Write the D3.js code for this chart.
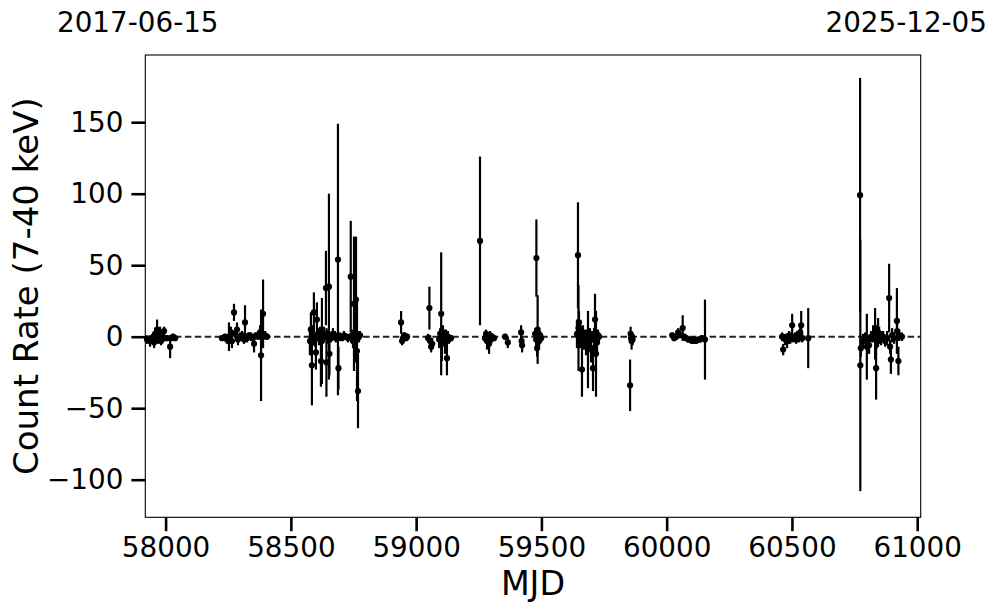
<!DOCTYPE html>
<html><head><meta charset="utf-8">
<script src="https://cdn.jsdelivr.net/npm/d3@7"></script>
<style>body{margin:0;background:#fff}svg{display:block}text{font-family:"DejaVu Sans",sans-serif;fill:#000}</style>
</head><body><svg id="c" width="997" height="613"></svg>
<script>
const mjd = [
57926,57938,57946,57954,57958,57966,57970,57978,57982,57986,57994,57998,58006,58018,58022,58030,58038,
58225,58237,58245,58253,58261,58265,58273,58277,58285,58289,58297,58305,58313,58317,58325,58333,58341,58349,58353,58361,58369,58377,58381,58389,58397,58405,
58576,58580,58584,58588,58592,58596,58600,58604,58608,58612,58616,58620,58624,58628,58632,58640,58642,58644,58652,58654,58660,58668,58676,58680,58688,58690,58696,58704,58712,58720,58728,58739,58744,58748,58752,58756,58760,58764,58768,58772,58776,
58940,58944,58948,58952,58956,58960,58964,
59048,59053,59056,59060,59064,
59092,59096,59100,59103,59107,59111,59115,59119,59123,59127,59131,59139,
59255,59275,59279,59283,59287,59291,59295,59299,59303,59311,59355,59366,59419,59421,59423,
59475,59479,59480,59483,59485,59487,59491,59495,59499,
59642,59646,59648,59650,59654,59658,59662,59666,59670,59674,59678,59682,59686,59690,59694,59698,59702,59706,59710,59714,59718,59722,59726,59730,
59854,59856,59858,59860,59862,59864,
60022,60030,60038,60046,60054,60064,60070,60078,60086,60094,60102,60110,60117,60125,60133,60141,60153,
60461,60465,60473,60481,60489,60493,60501,60505,60513,60517,60521,60529,60533,60537,60541,60565,
60772,60773,60775,60784,60792,60799,60808,60816,60824,60832,60836,60840,60844,60848,60856,60864,60872,60880,60888,60892,60895,60900,60908,60919,60920,60925,60928,60939
];
const rate = [
-2,-3,-1,-4,2,5,-2,3,-3,1,4,-1,-1,-7,-1,0,-1,
-1,0,-2,0,3,-3,17,2,5,-2,0,1,-2,10,-1,1,0,-1,-5,1,0,3,-13,16,1,0,
-3,5,-20,0,17,-2,-11,12,2,-1,1,-17,-3,0,2,34,-18,0,35,-12,-1,2,1,-1,54,-22,0,-1,1,0,-1,42,1,-3,23,3,26,-10,-38,0,1,
10,-3,-1,1,0,-1,0,
-1,20,-3,-7,-5,
-2,2,16,-5,3,-1,-4,1,-15,0,-2,-1,
67,-1,2,-3,0,-5,1,-2,0,-1,0,-4,3,-3,-6,
2,-2,55,-8,5,0,-3,1,-1,
2,57,6,10,-2,3,-23,0,-3,1,-5,0,-9,-3,1,-8,0,-22,-2,12,-12,-4,1,0,
-34,2,-1,-3,0,-2,
1,-1,0,3,1,6,0,-1,-2,-2,-3,-2,-3,-2,-2,-1,-2,
0,-9,-2,-3,1,-2,8,-1,0,-2,1,0,3,8,-1,-1,
99,-20,-8,-3,-1,-7,-6,0,2,2,-22,0,3,1,-1,0,-3,-1,27,-7,-16,1,-1,11,4,-17,1,0
];
const rateErr = [
3,4,3,4,4,7,3,4,3,3,3,2,2,8,2,2,2,
2,2,3,10,4,5,6,3,5,4,3,3,3,12,3,2,3,3,6,2,2,5,32,24,3,2,
10,12,28,6,14,5,12,12,4,5,6,18,30,4,5,26,24,5,65,15,3,4,3,3,95,15,3,2,3,2,3,39,4,5,47,6,44,35,26,4,3,
8,3,2,2,2,2,2,
3,15,4,4,4,
6,4,43,12,5,4,8,4,12,4,3,2,
59,3,3,6,3,7,3,3,2,2,2,4,5,3,5,
4,5,27,6,24,3,4,3,2,
10,37,30,8,6,5,19,8,6,4,8,5,27,6,5,10,4,16,8,18,30,8,4,3,
18,5,4,6,3,4,
2,2,2,3,2,9,2,2,2,2,2,2,2,2,2,2,28,
3,4,4,5,3,3,8,3,3,3,3,4,5,10,3,21,
82,88,6,5,4,23,6,4,6,18,22,8,10,6,5,4,4,5,24,5,10,5,4,23,6,10,4,3
];
const xTicks = [58000, 58500, 59000, 59500, 60000, 60500, 61000];
const yTicks = [-100, -50, 0, 50, 100, 150];
const xDomain = [57919, 61014];
const yDomain = [-126.3, 197];
const startLabel = "2017-06-15";
const endLabel = "2025-12-05";
const xTitle = "MJD";
const yTitle = "Count Rate (7-40 keV)";

const L = 145.3, R = 920.7, T = 55, B = 517.3;
const svg = d3.select("#c");
svg.append("rect").attr("width", 997).attr("height", 613).attr("fill", "#fff");
const x = d3.scaleLinear().domain(xDomain).range([L, R]);
const y = d3.scaleLinear().domain(yDomain).range([B, T]);
const fmt = d => d < 0 ? "\u2212" + Math.abs(d) : String(d);

const data = mjd.map((m, i) => ({m, v: rate[i], e: rateErr[i]}));

const plot = svg.append("g");
plot.append("line").attr("x1", L).attr("x2", R).attr("y1", y(0)).attr("y2", y(0))
  .attr("stroke", "#222").attr("stroke-width", 1.9).attr("stroke-dasharray", "6.5,3.4");
plot.selectAll("line.eb").data(data).join("line").attr("class", "eb")
  .attr("x1", d => x(d.m)).attr("x2", d => x(d.m))
  .attr("y1", d => y(d.v - d.e)).attr("y2", d => y(d.v + d.e))
  .attr("stroke", "#000").attr("stroke-width", 2.2);
plot.selectAll("circle").data(data).join("circle")
  .attr("cx", d => x(d.m)).attr("cy", d => y(d.v)).attr("r", 3.1).attr("fill", "#000");

svg.append("rect").attr("x", L).attr("y", T).attr("width", R - L).attr("height", B - T)
  .attr("fill", "none").attr("stroke", "#000").attr("stroke-width", 1.1);

const xa = svg.append("g").attr("transform", `translate(0,${B})`)
  .call(d3.axisBottom(x).tickValues(xTicks).tickSize(13.9).tickPadding(6).tickFormat(d => String(d)));
const ya = svg.append("g").attr("transform", `translate(${L},0)`)
  .call(d3.axisLeft(y).tickValues(yTicks).tickSize(13.9).tickPadding(8).tickFormat(fmt));
[xa, ya].forEach(a => {
  a.select(".domain").remove();
  a.selectAll(".tick line").attr("stroke", "#000").attr("stroke-width", 2.6);
  a.selectAll(".tick text").attr("font-size", 27.8).attr("font-family", "DejaVu Sans").attr("fill", "#000");
});

svg.append("text").attr("x", (L + R) / 2).attr("y", 594.5).attr("text-anchor", "middle")
  .attr("font-size", 33.3).text(xTitle);
svg.append("text").attr("transform", `translate(38,${(T + B) / 2}) rotate(-90)`).attr("text-anchor", "middle")
  .attr("font-size", 34).text(yTitle);
svg.append("text").attr("x", 57).attr("y", 32).attr("font-size", 27.8).text(startLabel);
svg.append("text").attr("x", 987).attr("y", 32).attr("text-anchor", "end").attr("font-size", 27.8).text(endLabel);
</script></body></html>
